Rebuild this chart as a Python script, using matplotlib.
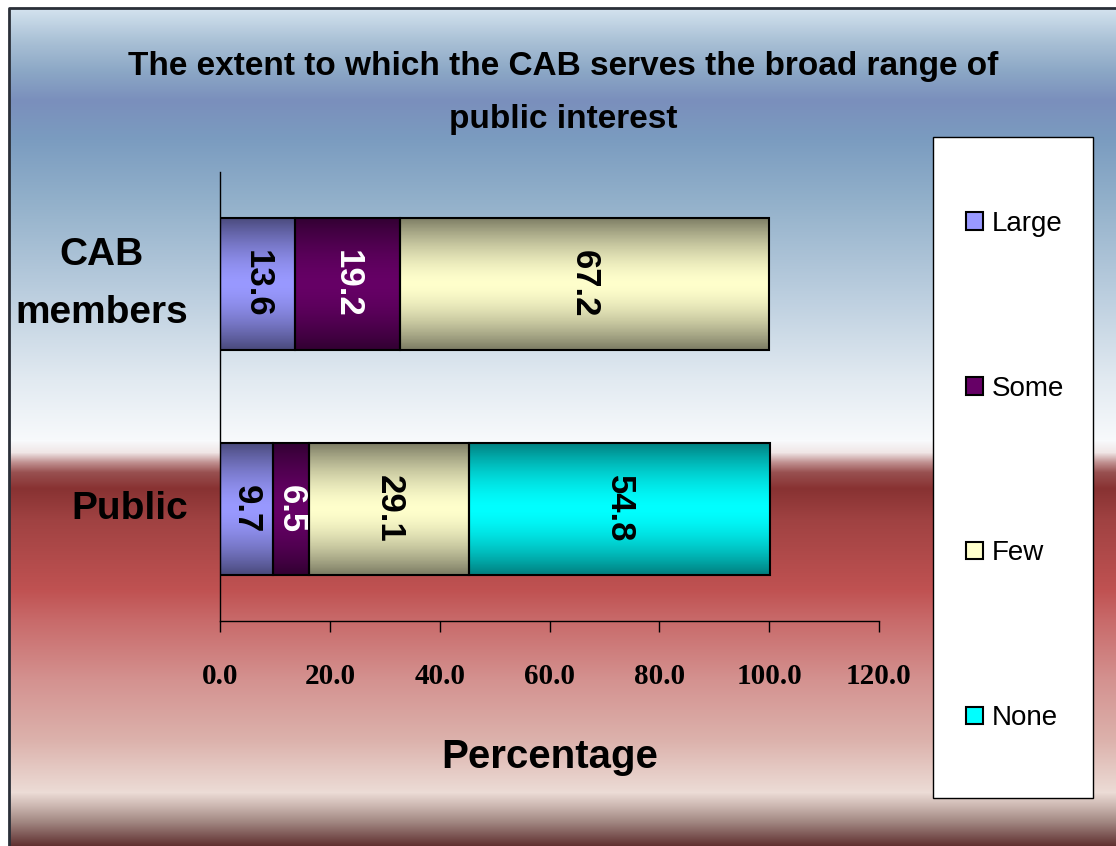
import numpy as np
import matplotlib.pyplot as plt
from matplotlib.colors import to_rgb
from matplotlib.patches import Rectangle

# survey results, percent of respondents
groups = ['Public', 'CAB\nmembers']
levels = ['Large', 'Some', 'Few', 'None']
large = [9.7, 13.6]
some = [6.5, 19.2]
few = [29.1, 67.2]
none = [54.8, 0.0]
xticks = [0, 20, 40, 60, 80, 100, 120]

# (bright middle, dark rim) for the cylinder-like shading of each series
fills = {
    'Large': ('#9999ff', '#4a4a7c'),
    'Some': ('#660066', '#320032'),
    'Few': ('#ffffcc', '#7c7c64'),
    'None': ('#00ffff', '#007f7f'),
}
text_colors = {'Large': 'black', 'Some': 'white', 'Few': 'black', 'None': 'black'}

SANS = ['Liberation Sans Narrow', 'Liberation Sans', 'DejaVu Sans']
SERIF = ['Liberation Serif', 'DejaVu Serif']

W, H = 1116, 846


def band(light, dark, n=96):
    t = np.abs(np.linspace(-1, 1, n)) ** 1.6
    a, b = np.array(to_rgb(light)), np.array(to_rgb(dark))
    return (a + (b - a) * t[:, None])[:, None, :]


fig = plt.figure(figsize=(W / 100, H / 100), dpi=100)

# chart area background: blue sky on top, red band below
bg = fig.add_axes([0, 0, 1, 1])
stops = [(8, '#d4e3ef'), (40, '#aac1d6'), (70, '#8ca8c6'), (100, '#7a8fbc'),
         (140, '#7b9cc0'), (200, '#92b0ca'), (300, '#bed0e0'), (380, '#e2eaf1'),
         (440, '#f8fafc'), (452, '#f0e6e6'), (462, '#c09090'), (472, '#985050'),
         (488, '#883232'), (520, '#a04242'), (590, '#c05252'), (620, '#c86a6a'),
         (680, '#d49290'), (740, '#dcb2ac'), (792, '#ecdcd6'), (805, '#cdb8b2'),
         (822, '#a08580'), (846, '#5e2e2e')]
sy = [s[0] for s in stops]
sc = np.array([to_rgb(s[1]) for s in stops])
rows = np.arange(8, H)
grad = np.stack([np.interp(rows, sy, sc[:, k]) for k in range(3)], axis=-1)[:, None, :]
bg.imshow(grad, extent=[9, W, H, 8], aspect='auto', zorder=0)
bg.plot([9, 9, W], [H, 8, 8], color='#2a2f38', lw=2, zorder=1)
bg.add_patch(Rectangle((933, 137), 160, 661, fc='white', ec='black', lw=1, zorder=2))
bg.set_xlim(0, W)
bg.set_ylim(H, 0)
bg.axis('off')

ax = fig.add_axes([220 / W, 1 - 621 / H, 659 / W, 449 / H])
ax.set_facecolor('none')

ypos = np.arange(len(groups))
left = np.zeros(len(groups))
containers = []
for name, vals in zip(levels, [large, some, few, none]):
    vals = np.array(vals)
    bars = ax.barh(ypos, vals, left=left, height=0.59, color=fills[name][0],
                   edgecolor='black', lw=1.5, label=name, zorder=3)
    containers.append(bars)
    left += vals

fig.legend(containers, levels, loc='center left', bbox_to_anchor=(966 / W, 1 - 471 / H),
           frameon=False, prop=dict(family=SANS, size=20), labelspacing=5.0,
           handlelength=0.6, handleheight=0.6, handletextpad=0.32, borderpad=0,
           borderaxespad=0)

# shade each segment and write its value down the bar
for name, bars in zip(levels, containers):
    for p in bars.patches:
        w = p.get_width()
        if w == 0:
            p.set_visible(False)
            continue
        x0, y0, h = p.get_x(), p.get_y(), p.get_height()
        p.set_facecolor('none')
        ax.imshow(band(*fills[name]), extent=[x0, x0 + w, y0, y0 + h],
                  aspect='auto', zorder=2.5)
        ax.text(x0 + w / 2, y0 + h / 2, f'{w:.1f}', rotation=270, ha='center',
                va='center', fontsize=25, weight='bold', family=SANS,
                color=text_colors[name], zorder=5)

ax.set_xlim(0, 120)
ax.set_ylim(-0.5, 1.5)
ax.set_xticks(xticks)
ax.set_xticklabels([f'{v:.1f}' for v in xticks], family=SERIF, weight='bold', fontsize=21)
ax.tick_params(axis='x', direction='out', length=8, width=1, pad=22)
ax.set_yticks(ypos)
ax.set_yticklabels(groups, fontsize=28, weight='bold', family=SANS, va='center',
                   multialignment='center', linespacing=1.8)
ax.tick_params(axis='y', length=0, pad=23)
for s in ['top', 'right']:
    ax.spines[s].set_visible(False)
for s in ['left', 'bottom']:
    ax.spines[s].set_color('black')
    ax.spines[s].set_linewidth(1)

ax.set_xlabel('Percentage', fontsize=29, weight='bold', family=SANS, va='center')
ax.xaxis.set_label_coords(0.5, (621 - 757) / 449)

fig.text(563 / W, 1 - 93 / H,
         'The extent to which the CAB serves the broad range of\npublic interest',
         ha='center', va='center', fontsize=24, weight='bold', family=SANS,
         linespacing=1.95)

fig.savefig('out.png', dpi=100)
